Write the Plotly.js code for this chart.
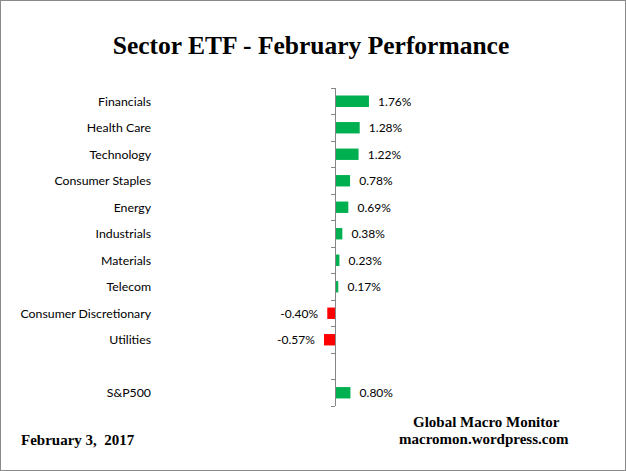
<!DOCTYPE html>
<html>
<head>
<meta charset="utf-8">
<script src="https://cdn.plot.ly/plotly-3.0.1.min.js"></script>
<style>
  html, body { margin: 0; padding: 0; background: #fff; }
  #wrap { position: relative; width: 626px; height: 471px; }
  #chart { width: 626px; height: 471px; }
  #frame { position: absolute; left: 0; top: 0; width: 624px; height: 469px; border: 1px solid #8a8a8a; pointer-events: none; }
</style>
</head>
<body>
<div id="wrap"><div id="chart"></div><div id="frame"></div></div>
<script>
const categories = ['Financials', 'Health Care', 'Technology', 'Consumer Staples', 'Energy',
  'Industrials', 'Materials', 'Telecom', 'Consumer Discretionary', 'Utilities', ' ', 'S&P500'];
const values = [1.76, 1.28, 1.22, 0.78, 0.69, 0.38, 0.23, 0.17, -0.40, -0.57, null, 0.80];
const titleText = 'Sector ETF - February Performance';
const dateText = 'February 3,\u00a0 2017';
const sourceLines = ['Global Macro Monitor', 'macromon.wordpress.com'];

const NB = '\u00a0\u00a0';
const labels = values.map(v => v === null ? '' : (v >= 0 ? NB + v.toFixed(2) + '%' : v.toFixed(2) + '%' + NB));
const colors = values.map(v => (v !== null && v < 0) ? '#FF0000' : '#00B050');

const n = categories.length;
const boundaries = [];
for (let i = 0; i <= n; i++) boundaries.push(i - 0.5);

// layout geometry
const W = 626, H = 471;
const mL = 155, mR = 16, mT = 88, mB = 65;
const plotW = W - mL - mR, plotH = H - mT - mB;
const zeroPx = 335 - mL;       // pixel offset of 0 within plot area
const pxPerUnit = 19.3;
const xRange = [-zeroPx / pxPerUnit, (plotW - zeroPx) / pxPerUnit];
const px2paperX = px => (px - mL) / plotW;
const px2paperY = py => (H - mB - py) / plotH;

const trace = {
  type: 'bar',
  orientation: 'h',
  y: categories,
  x: values,
  marker: { color: colors },
  text: labels,
  textposition: 'outside',
  constraintext: 'none',
  cliponaxis: false,
  textfont: { family: 'Lato, "Liberation Sans", sans-serif', size: 12, color: '#000' },
  hoverinfo: 'skip'
};

// carrier trace so the zero-line axis (y2) is drawn; it has no visible marks
const axisCarrier = {
  type: 'scatter', mode: 'markers',
  x: [null], y: [null], yaxis: 'y2',
  marker: { opacity: 0 }, hoverinfo: 'skip', showlegend: false
};

const serif = '"Liberation Serif", "Times New Roman", serif';

const layout = {
  width: W, height: H,
  margin: { l: mL, r: mR, t: mT, b: mB, pad: 0 },
  paper_bgcolor: '#fff', plot_bgcolor: '#fff',
  showlegend: false,
  bargap: 0.57,
  title: {
    text: '<b>' + titleText + '</b>',
    font: { family: serif, size: 25.5, color: '#000' },
    x: 311 / W, xanchor: 'center', xref: 'container',
    y: 1 - 45 / H, yanchor: 'middle', yref: 'container'
  },
  xaxis: {
    range: xRange, visible: false, showgrid: false, zeroline: false, fixedrange: true
  },
  yaxis: {
    type: 'category',
    range: [n - 0.5, -0.5],
    showline: false, ticks: '', showgrid: false, zeroline: false,
    ticklabelstandoff: 3,
    tickfont: { family: 'Lato, "Liberation Sans", sans-serif', size: 12.3, color: '#000' },
    fixedrange: true
  },
  yaxis2: {
    type: 'linear',
    overlaying: 'y', anchor: 'free', side: 'left',
    position: zeroPx / plotW,
    range: [n - 0.5, -0.5], autorange: false,
    showline: true, linecolor: '#868686', linewidth: 1,
    ticks: 'outside', ticklen: 4, tickcolor: '#868686', tickwidth: 1,
    tickmode: 'array', tickvals: boundaries,
    showticklabels: false, showgrid: false, zeroline: false, fixedrange: true
  },
  annotations: [
    { text: '<b>' + dateText + '</b>', xref: 'paper', yref: 'paper',
      x: px2paperX(19), y: px2paperY(440), xanchor: 'left', yanchor: 'middle',
      showarrow: false, font: { family: serif, size: 15, color: '#000' } },
    { text: '<b>' + sourceLines[0] + '</b>', xref: 'paper', yref: 'paper',
      x: px2paperX(486), y: px2paperY(422), xanchor: 'center', yanchor: 'middle',
      showarrow: false, font: { family: serif, size: 15, color: '#000' } },
    { text: '<b>' + sourceLines[1] + '</b>', xref: 'paper', yref: 'paper',
      x: px2paperX(484), y: px2paperY(439), xanchor: 'center', yanchor: 'middle',
      showarrow: false, font: { family: serif, size: 15, color: '#000' } }
  ]
};

Plotly.newPlot('chart', [trace, axisCarrier], layout, { staticPlot: true, displayModeBar: false });
</script>
</body>
</html>
